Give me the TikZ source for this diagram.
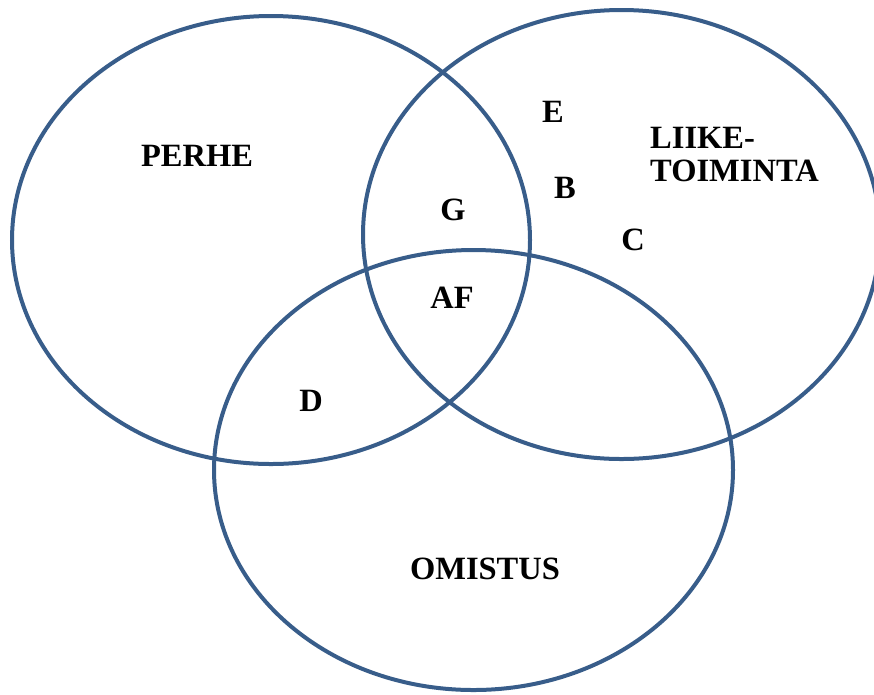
\documentclass[tikz,border=0pt]{standalone}
\usepackage{fontspec}
\setmainfont{Liberation Serif}
\definecolor{ringblue}{HTML}{385D8A}
\begin{document}
\begin{tikzpicture}[x=1pt,y=-1pt,
  ring/.style={draw=ringblue,line width=4pt},
  lbl/.style={font=\fontsize{32.5}{36}\selectfont\bfseries,inner sep=0pt,text=black}]
\useasboundingbox (0,0) rectangle (874,694);
\clip (0,0) rectangle (874,694);
\draw[ring] (271,240) ellipse [x radius=259,y radius=224];
\draw[ring] (621.5,234.5) ellipse [x radius=258.5,y radius=224.5];
\draw[ring] (473.5,470) ellipse [x radius=259.5,y radius=220];
\node[lbl] (perhe) at (197,156) {PERHE};
\node[lbl,align=left,anchor=north west] (liike) at (650,127) {LIIKE-\\[-3pt]TOIMINTA};
\node[lbl] (omistus) at (485,569) {OMISTUS};
\node[lbl] (e) at (553,112) {E};
\node[lbl] (b) at (565,188) {B};
\node[lbl] (c) at (633,240) {C};
\node[lbl] (g) at (453,210) {G};
\node[lbl] (af) at (452,298) {AF};
\node[lbl] (d) at (311,401) {D};
\end{tikzpicture}
\end{document}
